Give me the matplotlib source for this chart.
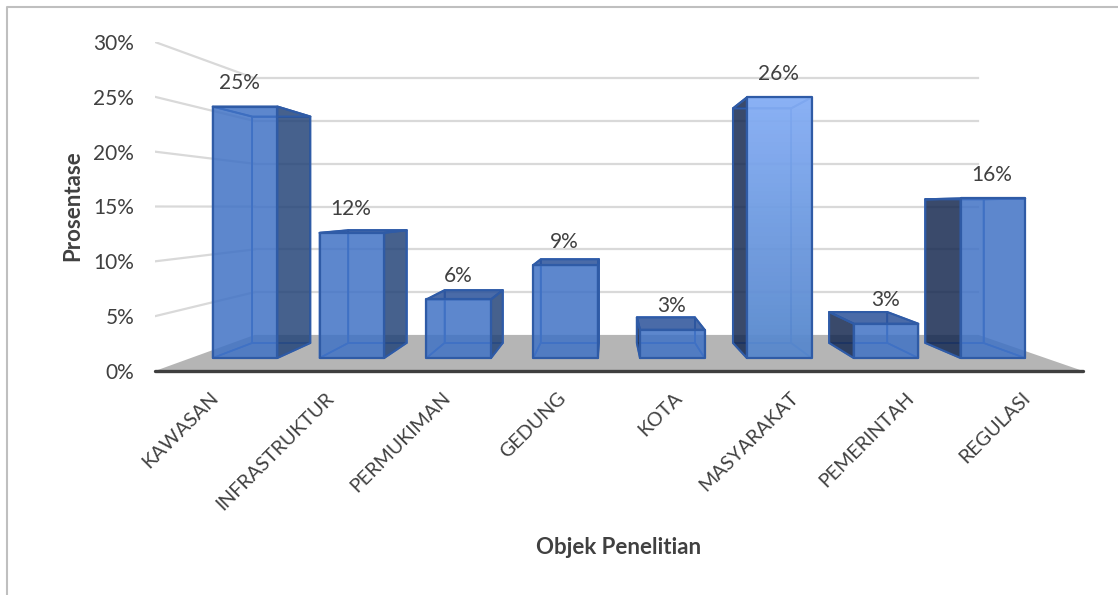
import numpy as np
import matplotlib
matplotlib.use("Agg")
import matplotlib.pyplot as plt
from matplotlib.lines import Line2D
from matplotlib.transforms import ScaledTranslation

plt.rcParams["font.family"] = ["Lato", "DejaVu Sans"]

# --- Data ---
categories = ["KAWASAN", "INFRASTRUKTUR", "PERMUKIMAN", "GEDUNG",
              "KOTA", "MASYARAKAT", "PEMERINTAH", "REGULASI"]
values = [24.9, 12.4, 5.8, 9.2, 2.8, 25.8, 3.4, 15.8]
y_ticks = [0, 5, 10, 15, 20, 25, 30]

# --- Fake 3D setup (perspective towards a vanishing point, in data units) ---
VP_X, VP_Y = 3.905, 14.96
S_FRONT, S_BACK, S_WALL = 0.921, 0.829, 0.78
GAP_L, GAP_R = 0.205, 0.19

TEXT = "#404040"
GRID = "#d9d9d9"
FRONT = "#4072c5"
EDGE = "#2f5ba6"
INNER = "#3f6fc4"


def project(x, v, s):
    return VP_X + (x - VP_X) * s, VP_Y + (v - VP_Y) * s


def draw_poly(ax, pts, color, alpha, edge, lw, z):
    xs, ys = zip(*pts)
    patch = ax.fill(xs, ys, facecolor=color if color else "none", alpha=None,
                    edgecolor=edge, linewidth=lw, zorder=z, clip_on=False,
                    joinstyle="round")[0]
    if color:
        patch.set_facecolor(matplotlib.colors.to_rgba(color, alpha))
    return patch


fig = plt.figure(figsize=(11.18, 5.95), dpi=100)
ax = fig.add_axes([155 / 1118, (595 - 371) / 595, 928 / 1118, 329 / 595])

# back wall and left wall gridlines
for t in y_ticks[1:]:
    bx, by = project(0, t, S_WALL)
    ex, ey = project(8, t, S_WALL)
    ax.plot([bx, ex], [by, ey], color=GRID, lw=1.6, zorder=1)
    ax.plot([0, bx], [t, by], color=GRID, lw=1.6, zorder=1)

# floor
floor = [project(0, 0, 1), project(8, 0, 1), project(8, 0, S_WALL), project(0, 0, S_WALL)]
draw_poly(ax, floor, "#b5b5b5", 1, "none", 0, 2)
ax.plot([0, 8], [0, 0], color="#3f3f3f", lw=2.4, zorder=3, clip_on=False,
        solid_capstyle="round")

# bars
for i, v in enumerate(values):
    x0, x1 = i + GAP_L, i + 1 - GAP_R
    z = 10 + i * 10
    sf, sb = S_FRONT, S_BACK

    back = [project(x0, 0, sb), project(x1, 0, sb), project(x1, v, sb), project(x0, v, sb)]
    draw_poly(ax, back, None, 0, INNER, 1.2, z)

    bottom = [project(x0, 0, sf), project(x1, 0, sf), project(x1, 0, sb), project(x0, 0, sb)]
    draw_poly(ax, bottom, None, 0, INNER, 1.2, z + 1)

    left = [project(x0, 0, sf), project(x0, v, sf), project(x0, v, sb), project(x0, 0, sb)]
    right = [project(x1, 0, sf), project(x1, v, sf), project(x1, v, sb), project(x1, 0, sb)]
    if project(x0, 0, sb)[0] < project(x0, 0, sf)[0]:
        draw_poly(ax, left, "#172a51", 0.85, EDGE, 1.5, z + 2)
        draw_poly(ax, right, None, 0, INNER, 1.2, z + 2)
    else:
        draw_poly(ax, left, None, 0, INNER, 1.2, z + 2)
    if project(x1, 0, sb)[0] > project(x1, 0, sf)[0]:
        draw_poly(ax, right, "#254579", 0.85, EDGE, 1.5, z + 3)

    top = [project(x0, v, sf), project(x1, v, sf), project(x1, v, sb), project(x0, v, sb)]
    if v < VP_Y:
        draw_poly(ax, top, "#2a5199", 0.85, EDGE, 1.5, z + 4)
    else:
        draw_poly(ax, top, None, 0, EDGE, 1.5, z + 4)

    front = [project(x0, 0, sf), project(x1, 0, sf), project(x1, v, sf), project(x0, v, sf)]
    if categories[i] == "MASYARAKAT":
        # this one catches the light, lighter at the top
        p = draw_poly(ax, front, None, 0, EDGE, 1.6, z + 6)
        grad = np.zeros((64, 1, 4))
        grad[..., 0] = np.linspace(0.52, 0.34, 64)[:, None]
        grad[..., 1] = np.linspace(0.68, 0.53, 64)[:, None]
        grad[..., 2] = np.linspace(0.96, 0.80, 64)[:, None]
        grad[..., 3] = 0.95
        xa, ya = front[0]
        xb, yb = front[2]
        im = ax.imshow(grad, extent=[xa, xb, ya, yb], origin="upper", aspect="auto",
                       zorder=z + 5)
        im.set_clip_path(p)
    else:
        draw_poly(ax, front, FRONT, 0.85, EDGE, 1.6, z + 6)

    tx, ty = project(i + 0.5, v, sf)
    ax.annotate(f"{v:.0f}%", xy=(tx, ty), xytext=(-3.5 if i == 0 else 0, 17),
                textcoords="offset points", ha="center", va="center", fontsize=15,
                color=TEXT, zorder=200, annotation_clip=False)

# axes
ax.set_xlim(0, 8)
ax.set_ylim(0, 30)
for side in ax.spines.values():
    side.set_visible(False)
ax.patch.set_visible(False)
ax.set_yticks(y_ticks)
ax.set_yticklabels([f"{t}%" for t in y_ticks], fontsize=15, color=TEXT)
ax.set_xticks(np.arange(len(categories)) + 0.5)
ax.set_xticklabels(categories, rotation=45, ha="right", rotation_mode="anchor",
                   fontsize=14.2, color=TEXT)
ax.tick_params(axis="y", length=0, pad=15)
ax.tick_params(axis="x", length=0, pad=13)
shift = ScaledTranslation(-2.5 / 72, 0, fig.dpi_scale_trans)
for lab in ax.get_xticklabels():
    lab.set_transform(lab.get_transform() + shift)

fig.text(73 / 1118, 1 - 206 / 595, "Prosentase", rotation=90, ha="center", va="center",
         fontsize=16, fontweight="bold", color=TEXT)
fig.text(619 / 1118, 1 - 548 / 595, "Objek Penelitian", ha="center", va="center",
         fontsize=16, fontweight="bold", color=TEXT)

# chart border, only left and top show in the crop
fig.add_artist(Line2D([7 / 1118, 7 / 1118, 1], [0, 1 - 7 / 595, 1 - 7 / 595],
                      color="#bfbfbf", lw=1.5))

fig.savefig("out.png", dpi=100)
